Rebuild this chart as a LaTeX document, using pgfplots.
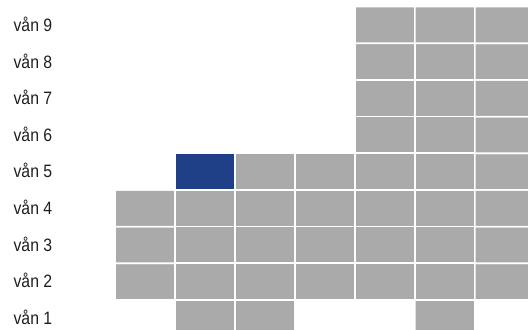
\documentclass[border=0pt]{standalone}
\usepackage{pgfplots}
\pgfplotsset{compat=1.18}
\usepackage{fontspec}
\setmainfont{Liberation Sans}[FakeStretch=0.88]
\definecolor{cellgray}{RGB}{169,170,169}
\definecolor{cellblue}{RGB}{31,63,135}
\definecolor{txt}{RGB}{30,30,30}
\pgfplotstableread{
x y c
1 1 0
2 1 1
3 1 1
4 1 0
5 1 0
6 1 1
7 1 0
1 2 1
2 2 1
3 2 1
4 2 1
5 2 1
6 2 1
7 2 1
1 3 1
2 3 1
3 3 1
4 3 1
5 3 1
6 3 1
7 3 1
1 4 1
2 4 1
3 4 1
4 4 1
5 4 1
6 4 1
7 4 1
1 5 0
2 5 2
3 5 1
4 5 1
5 5 1
6 5 1
7 5 1
1 6 0
2 6 0
3 6 0
4 6 0
5 6 1
6 6 1
7 6 1
1 7 0
2 7 0
3 7 0
4 7 0
5 7 1
6 7 1
7 7 1
1 8 0
2 8 0
3 8 0
4 8 0
5 8 1
6 8 1
7 8 1
1 9 0
2 9 0
3 9 0
4 9 0
5 9 1
6 9 1
7 9 1
}\cells
\begin{document}
\begin{tikzpicture}
\begin{axis}[
  width=528bp, height=330bp, scale only axis,
  xmin=-1.4167, xmax=7.3833,
  ymin=0.682, ymax=9.681,
  axis line style={draw=none},
  xtick=\empty,
  ytick={1,...,9},
  yticklabels={vån 1,vån 2,vån 3,vån 4,vån 5,vån 6,vån 7,vån 8,vån 9},
  major tick length=0pt,
  yticklabel style={anchor=base west, inner sep=0pt, xshift=13.3bp, yshift=-6.4bp,
    font=\fontsize{18}{20}\selectfont, text=txt},
  colormap={cells}{rgb255=(255,255,255) rgb255=(169,170,169) rgb255=(31,63,135)},
  point meta min=0, point meta max=2,
  clip=true,
]
\addplot[matrix plot*, point meta=explicit, mesh/cols=7, draw=white, line width=1.6bp]
  table[x=x, y=y, meta=c] {\cells};
\end{axis}
\end{tikzpicture}
\end{document}
